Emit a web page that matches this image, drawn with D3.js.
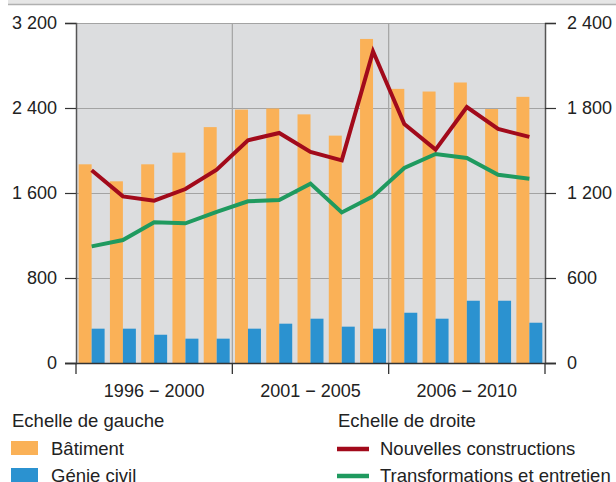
<!DOCTYPE html>
<html>
<head>
<meta charset="utf-8">
<script src="https://cdn.jsdelivr.net/npm/d3@7"></script>
<style>
  body { margin: 0; background: #fff; }
  svg { display: block; font-family: "Liberation Sans", Arial, sans-serif; }
</style>
</head>
<body>
<svg id="chart" width="616" height="482"></svg>
<script>
// data
const years = [1996, 1997, 1998, 1999, 2000, 2001, 2002, 2003, 2004, 2005, 2006, 2007, 2008, 2009, 2010];
const batiment = [1870, 1710, 1870, 1980, 2220, 2385, 2395, 2340, 2140, 3050, 2580, 2555, 2640, 2390, 2505];
const genieCivil = [323, 323, 266, 229, 229, 323, 370, 417, 342, 323, 473, 417, 586, 586, 379];
const nouvelles = [1360, 1176, 1146, 1228, 1365, 1572, 1624, 1490, 1430, 2200, 1687, 1506, 1807, 1652, 1596];
const transformations = [823, 868, 993, 986, 1066, 1141, 1151, 1266, 1063, 1176, 1377, 1475, 1447, 1329, 1301];
const periods = ["1996 \u2212 2000", "2001 \u2212 2005", "2006 \u2212 2010"];
const leftTicks = [0, 800, 1600, 2400, 3200];
const rightTicks = [0, 600, 1200, 1800, 2400];

const colors = {
  bat: "#fab157",
  gen: "#2b92d0",
  nouv: "#a20a1b",
  trans: "#1f9a5f",
  bg: "#dcdddf",
  grid: "#a3a3a3",
  axis: "#555"
};

const fontSize = 18;
const legendFont = 18.5;

const svg = d3.select("#chart");

const plotL = 76, plotR = 545, plotT = 23, plotB = 363;

const x = d3.scaleBand()
  .domain(years)
  .range([plotL, plotR])
  .paddingInner(0.17)
  .paddingOuter(0.085);

const xSub = d3.scaleBand()
  .domain(["bat", "gen"])
  .range([0, x.bandwidth()]);

const yL = d3.scaleLinear().domain([0, 3200]).range([plotB, plotT]);
const yR = d3.scaleLinear().domain([0, 2400]).range([plotB, plotT]);

// top strip
svg.append("rect").attr("x", 8).attr("y", 0).attr("width", 608).attr("height", 4).attr("fill", "#e6e6e6");
svg.append("line").attr("x1", 8).attr("x2", 616).attr("y1", 4.5).attr("y2", 4.5)
  .attr("stroke", "#b0b0b0").attr("stroke-width", 1.5);

// plot background
svg.append("rect")
  .attr("x", plotL).attr("y", plotT)
  .attr("width", plotR - plotL).attr("height", plotB - plotT)
  .attr("fill", colors.bg);

// horizontal grid
svg.append("g").selectAll("line")
  .data(leftTicks.filter(d => d > 0))
  .join("line")
  .attr("x1", plotL).attr("x2", plotR)
  .attr("y1", d => yL(d) + 0.5).attr("y2", d => yL(d) + 0.5)
  .attr("stroke", colors.grid).attr("stroke-width", 1.2);

// vertical separators between periods
const sepX = [0, 5, 10, 15].map(i => plotL + i * (plotR - plotL) / 15);
svg.append("g").selectAll("line")
  .data(sepX.slice(1, 3))
  .join("line")
  .attr("x1", d => d).attr("x2", d => d)
  .attr("y1", plotT).attr("y2", plotB)
  .attr("stroke", colors.grid).attr("stroke-width", 1.2);

// bars
const groups = svg.append("g").selectAll("g")
  .data(years)
  .join("g")
  .attr("transform", d => `translate(${x(d)},0)`);

groups.append("rect")
  .attr("x", xSub("bat"))
  .attr("width", xSub.bandwidth())
  .attr("y", (d, i) => yL(batiment[i]))
  .attr("height", (d, i) => yL(0) - yL(batiment[i]))
  .attr("fill", colors.bat);

groups.append("rect")
  .attr("x", xSub("gen"))
  .attr("width", xSub.bandwidth())
  .attr("y", (d, i) => yL(genieCivil[i]))
  .attr("height", (d, i) => yL(0) - yL(genieCivil[i]))
  .attr("fill", colors.gen);

// lines on the right scale
const line = d3.line()
  .x((d, i) => x(years[i]) + x.bandwidth() / 2)
  .y(d => yR(d));

svg.append("path")
  .datum(transformations)
  .attr("d", line)
  .attr("fill", "none")
  .attr("stroke", colors.trans)
  .attr("stroke-width", 4);

svg.append("path")
  .datum(nouvelles)
  .attr("d", line)
  .attr("fill", "none")
  .attr("stroke", colors.nouv)
  .attr("stroke-width", 4);

// axes
const fmt = d => d3.format(",")(d).replace(",", " ");

const axisLeft = svg.append("g")
  .attr("transform", `translate(${plotL},0)`)
  .call(d3.axisLeft(yL).tickValues(leftTicks).tickSize(11).tickPadding(8).tickFormat(fmt));

const axisRight = svg.append("g")
  .attr("transform", `translate(${plotR},0)`)
  .call(d3.axisRight(yR).tickValues(rightTicks).tickSize(11).tickPadding(11).tickFormat(fmt));

[axisLeft, axisRight].forEach(g => {
  g.select(".domain").attr("stroke", colors.axis).attr("stroke-width", 1.5);
  g.selectAll(".tick line").attr("stroke", "#333").attr("stroke-width", 1.2);
  g.selectAll(".tick text").attr("font-size", fontSize).attr("fill", "#222")
    .attr("font-family", "'Liberation Sans', Arial, sans-serif");
});

// baseline
svg.append("line")
  .attr("x1", plotL - 11).attr("x2", plotR + 11)
  .attr("y1", plotB + 0.5).attr("y2", plotB + 0.5)
  .attr("stroke", "#333").attr("stroke-width", 1.3);

// period ticks under the axis
svg.append("g").selectAll("line")
  .data(sepX)
  .join("line")
  .attr("x1", d => d).attr("x2", d => d)
  .attr("y1", plotB).attr("y2", plotB + 11)
  .attr("stroke", "#333").attr("stroke-width", 1.3);

svg.append("g").selectAll("text")
  .data(periods)
  .join("text")
  .attr("x", (d, i) => (sepX[i] + sepX[i + 1]) / 2)
  .attr("y", 397)
  .attr("text-anchor", "middle")
  .attr("font-size", fontSize)
  .attr("fill", "#222")
  .text(d => d);

// legend
const legend = svg.append("g").attr("font-size", legendFont).attr("fill", "#222");

legend.append("text").attr("x", 12).attr("y", 427).text("Echelle de gauche");
legend.append("text").attr("x", 338).attr("y", 427).text("Echelle de droite");

const barItems = [
  { label: "B\u00e2timent", color: colors.bat },
  { label: "G\u00e9nie civil", color: colors.gen }
];
const lineItems = [
  { label: "Nouvelles constructions", color: colors.nouv },
  { label: "Transformations et entretien", color: colors.trans }
];

barItems.forEach((d, i) => {
  const cy = 448 + i * 27;
  legend.append("rect").attr("x", 11).attr("y", cy - 7).attr("width", 27).attr("height", 14).attr("fill", d.color);
  legend.append("text").attr("x", 51).attr("y", cy + 7).text(d.label);
});

lineItems.forEach((d, i) => {
  const cy = 449 + i * 27;
  legend.append("line").attr("x1", 337).attr("x2", 369).attr("y1", cy).attr("y2", cy)
    .attr("stroke", d.color).attr("stroke-width", 4.5);
  legend.append("text").attr("x", 380).attr("y", cy + 6).text(d.label);
});
</script>
</body>
</html>
